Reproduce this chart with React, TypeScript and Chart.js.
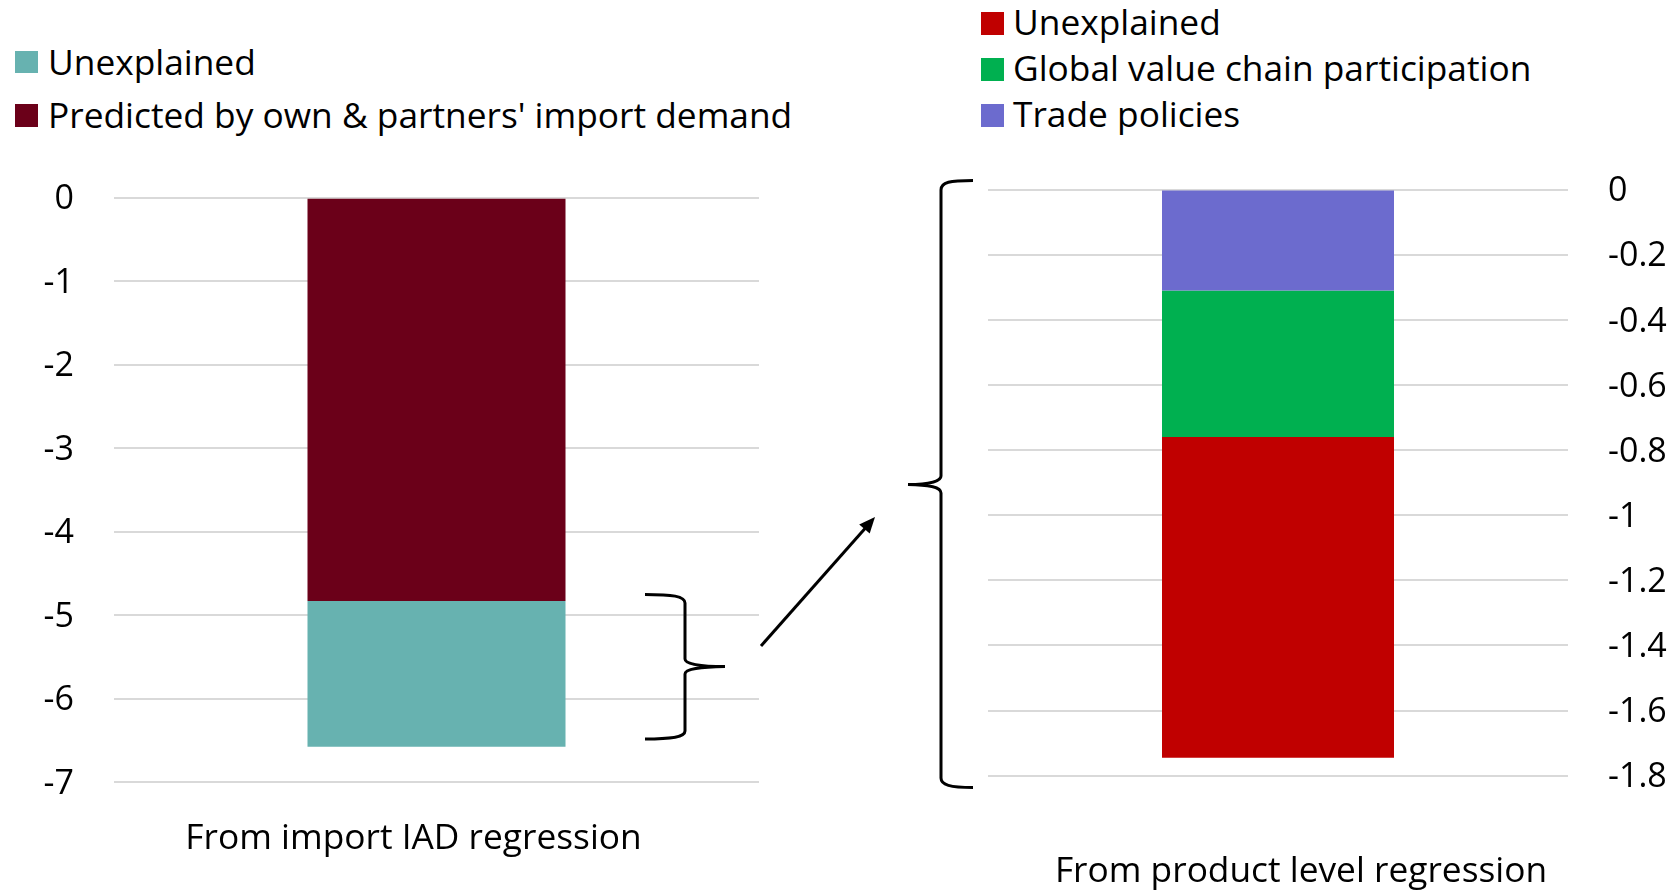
import React, { useEffect, useRef } from 'react';
import { Chart, registerables } from 'chart.js';

Chart.register(...registerables);

const FONT = '"Open Sans", "Noto Sans", sans-serif';
const TEXT_SIZE = 35.3;
const TICK_SIZE = 34;

// Aggregate import (IAD) regression: decomposition of the trade slowdown
const iadCategories = ['From import IAD regression'];
const iadPredicted = [-4.83];
const iadUnexplained = [-1.745];
const iadAxis = { min: -7, max: 0, step: 1 };

// Product level regression: breakdown of the unexplained part
const productCategories = ['From product level regression'];
const productTradePolicies = [-0.31];
const productGvc = [-0.45];
const productUnexplained = [-0.985];
const productAxis = { min: -1.8, max: 0, step: 0.2 };

const COLORS = {
  predicted: '#6B0019',
  iadUnexplained: '#67B2B0',
  tradePolicies: '#6C6BCE',
  gvc: '#00B050',
  productUnexplained: '#C00000',
};

type PanelSpec = {
  labels: string[];
  datasets: { label: string; data: number[]; backgroundColor: string }[];
  axis: { min: number; max: number; step: number };
  yPosition: 'left' | 'right';
  padding: { top: number; right: number; bottom: number; left: number };
  yWidth: number;
  xHeight: number;
  labelPad: number;
  labelOffset: number;
};

function buildConfig(p: PanelSpec): any {
  return {
    type: 'bar',
    data: {
      labels: p.labels,
      datasets: p.datasets.map((d) => ({
        ...d,
        borderWidth: 0,
        barPercentage: 1,
        categoryPercentage: 0.4,
      })),
    },
    options: {
      responsive: false,
      animation: false,
      events: [],
      layout: { padding: p.padding },
      plugins: { legend: { display: false }, tooltip: { enabled: false } },
      scales: {
        x: {
          stacked: true,
          grid: { display: false, drawTicks: false },
          border: { display: false },
          ticks: {
            color: '#000',
            font: { family: FONT, size: TEXT_SIZE },
            padding: p.labelPad,
            labelOffset: p.labelOffset,
            maxRotation: 0,
          },
          afterFit: (s: any) => {
            s.height = p.xHeight;
          },
        },
        y: {
          stacked: true,
          position: p.yPosition,
          min: p.axis.min,
          max: p.axis.max,
          // invisible tick marks keep the labels 40px away from the plot
          grid: {
            color: '#D9D9D9',
            lineWidth: 2,
            drawTicks: true,
            tickLength: 40,
            tickColor: 'rgba(0,0,0,0)',
          },
          border: { display: false },
          ticks: {
            stepSize: p.axis.step,
            color: '#000',
            font: { family: FONT, size: TICK_SIZE },
            padding: 0,
            labelOffset: 2,
            callback: (v: any) => String(Math.round(Number(v) * 10) / 10),
          },
          afterFit: (s: any) => {
            s.width = p.yWidth;
          },
        },
      },
    },
  };
}

function Panel({ spec, left, top, width, height }: { spec: PanelSpec; left: number; top: number; width: number; height: number }) {
  const ref = useRef<HTMLCanvasElement>(null);
  useEffect(() => {
    const chart = new Chart(ref.current as HTMLCanvasElement, buildConfig(spec));
    return () => chart.destroy();
  }, []);
  return (
    <canvas
      ref={ref}
      width={width}
      height={height}
      style={{ position: 'absolute', left, top, width, height, display: 'block' }}
    />
  );
}

type LegendItem = { label: string; color: string; textTop: number; boxTop: number };

function Legend({ items, boxLeft, textLeft }: { items: LegendItem[]; boxLeft: number; textLeft: number }) {
  return (
    <>
      {items.map((it) => (
        <React.Fragment key={it.label + it.color}>
          <div
            style={{
              position: 'absolute',
              left: boxLeft,
              top: it.boxTop,
              width: 22.5,
              height: 22.5,
              background: it.color,
            }}
          />
          <div
            style={{
              position: 'absolute',
              left: textLeft,
              top: it.textTop,
              fontFamily: FONT,
              fontSize: TEXT_SIZE,
              lineHeight: `${TEXT_SIZE}px`,
              color: '#000',
              whiteSpace: 'nowrap',
            }}
          >
            {it.label}
          </div>
        </React.Fragment>
      ))}
    </>
  );
}

const leftSpec: PanelSpec = {
  labels: iadCategories,
  datasets: [
    { label: "Predicted by own & partners' import demand", data: iadPredicted, backgroundColor: COLORS.predicted },
    { label: 'Unexplained', data: iadUnexplained, backgroundColor: COLORS.iadUnexplained },
  ],
  axis: iadAxis,
  yPosition: 'left',
  padding: { top: 47.8, right: 41, bottom: 0, left: 0 },
  yWidth: 114,
  xHeight: 107.7,
  labelPad: 35,
  labelOffset: -23,
};

const rightSpec: PanelSpec = {
  labels: productCategories,
  datasets: [
    { label: 'Trade policies', data: productTradePolicies, backgroundColor: COLORS.tradePolicies },
    { label: 'Global value chain participation', data: productGvc, backgroundColor: COLORS.gvc },
    { label: 'Unexplained', data: productUnexplained, backgroundColor: COLORS.productUnexplained },
  ],
  axis: productAxis,
  yPosition: 'right',
  padding: { top: 39.6, right: 0, bottom: 0, left: 88 },
  yWidth: 111,
  xHeight: 114.3,
  labelPad: 75,
  labelOffset: 23,
};

export default function App() {
  return (
    <div style={{ position: 'absolute', left: 0, top: 0, width: 1679, height: 890, background: '#fff', overflow: 'hidden' }}>
      <Legend
        boxLeft={15}
        textLeft={48}
        items={[
          { label: 'Unexplained', color: COLORS.iadUnexplained, textTop: 43.5, boxTop: 50.5 },
          { label: "Predicted by own & partners' import demand", color: COLORS.predicted, textTop: 97, boxTop: 104 },
        ]}
      />
      <Legend
        boxLeft={981}
        textLeft={1013}
        items={[
          { label: 'Unexplained', color: COLORS.productUnexplained, textTop: 4, boxTop: 12 },
          { label: 'Global value chain participation', color: COLORS.gvc, textTop: 50, boxTop: 58 },
          { label: 'Trade policies', color: COLORS.tradePolicies, textTop: 96, boxTop: 104 },
        ]}
      />
      <Panel spec={leftSpec} left={0} top={150} width={800} height={740} />
      <Panel spec={rightSpec} left={900} top={150} width={779} height={740} />
      <svg
        width={1679}
        height={890}
        style={{ position: 'absolute', left: 0, top: 0, pointerEvents: 'none' }}
      >
        {/* brace grouping the unexplained segment of the left bar */}
        <path
          d="M 645 594.5 C 672 594.5 685 596 685 603 L 685 659 C 685 664 700 666.5 725 666.5 C 700 667 685 669 685 674 L 685 731 C 685 737 672 739 645 739"
          fill="none"
          stroke="#000"
          strokeWidth={3}
        />
        {/* arrow linking the two panels */}
        <line x1={761} y1={646} x2={865} y2={528.5} stroke="#000" strokeWidth={3} />
        <polygon points="875,517 859.2,524.4 869.7,533.6" fill="#000" />
        {/* brace spanning the right panel */}
        <path
          d="M 973 180.5 C 950 180.5 941 182 941 190 L 941 476 C 941 481 930 484.5 908 484.5 C 930 485 941 487 941 493 L 941 778 C 941 785 950 787.5 973 787.5"
          fill="none"
          stroke="#000"
          strokeWidth={3}
        />
      </svg>
    </div>
  );
}
